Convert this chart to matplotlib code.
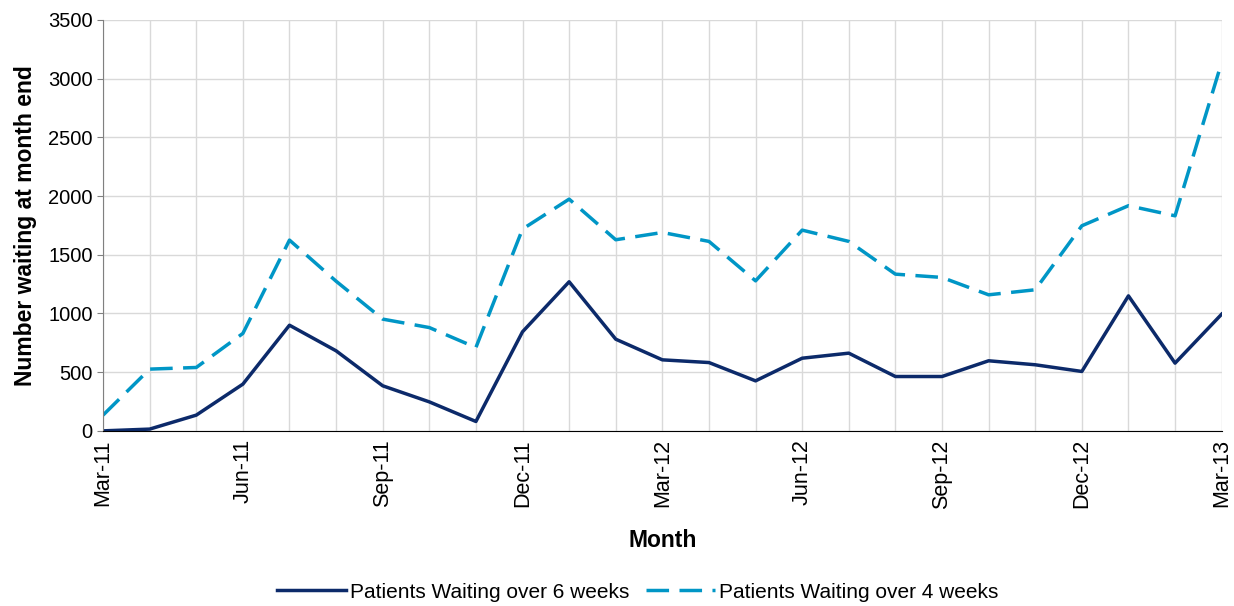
import matplotlib
matplotlib.use("Agg")
import matplotlib.pyplot as plt
import numpy as np

plt.rcParams["font.family"] = ["Liberation Sans", "DejaVu Sans"]

months = ["Mar-11", "Apr-11", "May-11", "Jun-11", "Jul-11", "Aug-11", "Sep-11", "Oct-11",
          "Nov-11", "Dec-11", "Jan-12", "Feb-12", "Mar-12", "Apr-12", "May-12", "Jun-12",
          "Jul-12", "Aug-12", "Sep-12", "Oct-12", "Nov-12", "Dec-12", "Jan-13", "Feb-13",
          "Mar-13"]
over_6_weeks = [0, 15, 134, 398, 900, 682, 384, 247, 80, 844, 1270, 781, 605, 582, 426,
                619, 662, 463, 463, 597, 563, 506, 1150, 577, 994]
over_4_weeks = [134, 526, 540, 830, 1625, 1275, 952, 880, 710, 1719, 1974, 1628, 1690, 1614,
                1278, 1710, 1614, 1335, 1307, 1159, 1202, 1747, 1918, 1832, 3139]

x = np.arange(len(months))

fig = plt.figure(figsize=(12.34, 6.06), dpi=100)
ax = fig.add_axes([0.0835, 0.289, 0.9065, 0.678])

ax.plot(x, over_6_weeks, color="#0C2A6A", lw=2.5, label="Patients Waiting over 6 weeks")
ax.plot(x, over_4_weeks, color="#0096C6", lw=2.5, dashes=(6.5, 3),
        label="Patients Waiting over 4 weeks")

ax.set_xlim(0, len(months) - 1)
ax.set_ylim(0, 3500)
ax.set_yticks(np.arange(0, 3501, 500))
ax.set_xticks(x, minor=True)
ax.set_xticks(x[::3])
ax.set_xticklabels(months[::3], rotation=90, fontsize=15.5)
ax.tick_params(axis="y", labelsize=14.5, length=4, color="#808080")
ax.tick_params(axis="x", which="both", length=0, pad=6)

ax.grid(True, which="both", color="#D9D9D9", lw=1)
ax.set_axisbelow(True)
for side in ["top", "right"]:
    ax.spines[side].set_visible(False)
ax.spines["left"].set_color("#808080")
ax.spines["bottom"].set_color("black")

ax.set_ylabel("Number waiting at month end", fontsize=16.5, fontweight="bold", labelpad=8)
ax.set_xlabel("Month", fontsize=16.5, fontweight="bold", labelpad=15)

fig.legend(loc="center", bbox_to_anchor=(0.517, 0.023), ncol=2, frameon=False,
           fontsize=15, handlelength=3.3, columnspacing=0.8, handletextpad=0.2)

fig.savefig("out.png", dpi=100)
